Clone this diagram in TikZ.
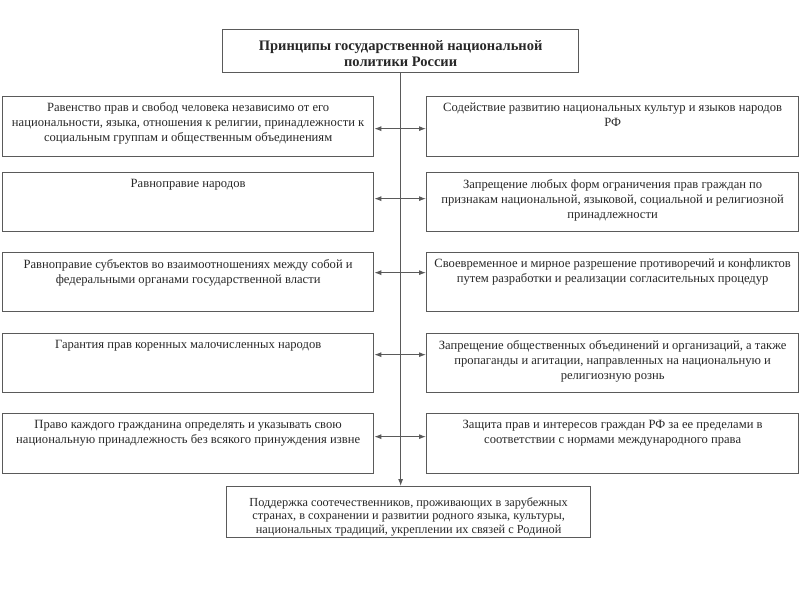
\documentclass[tikz,border=0pt]{standalone}
\usepackage{fontspec}
\setmainfont{Liberation Serif}
\usetikzlibrary{arrows.meta}
\definecolor{edge}{RGB}{90,90,90}
\definecolor{ink}{RGB}{40,40,40}
\tikzset{
  x=1pt,y=1pt,
  box/.style={draw=edge, line width=1.3pt, rectangle, inner sep=0pt, anchor=north west},
  txt/.style={anchor=north, inner sep=0pt, align=center, text=ink, font=\fontsize{12.6}{15}\selectfont},
  ttl/.style={align=center, text=ink, font=\bfseries\fontsize{14.5}{16.5}\selectfont},
  btxt/.style={align=center, text=ink, font=\fontsize{12.3}{13.5}\selectfont},
  link/.style={draw=edge, line width=1pt},
  dbl/.style={link, {Latex[length=7pt,width=5pt]}-{Latex[length=7pt,width=5pt]}},
  down/.style={link, -{Latex[length=7pt,width=5pt]}}
}
\begin{document}
\begin{tikzpicture}
\useasboundingbox (0,0) rectangle (800,-600);
\fill[white] (0,0) rectangle (800,-600);
% top
\node[box, minimum width=356, minimum height=43] (T) at (222,-29) {};
\node[ttl] (Tt) at ([yshift=-2.5pt]T.center) {Принципы государственной национальной\\политики России};
% rows
\node[box, minimum width=371, minimum height=60] (L1) at (2,-96) {};
\node[box, minimum width=372, minimum height=60] (R1) at (426,-96) {};
\node[box, minimum width=371, minimum height=59] (L2) at (2,-172) {};
\node[box, minimum width=372, minimum height=59] (R2) at (426,-172) {};
\node[box, minimum width=371, minimum height=59] (L3) at (2,-252) {};
\node[box, minimum width=372, minimum height=59] (R3) at (426,-252) {};
\node[box, minimum width=371, minimum height=59] (L4) at (2,-333) {};
\node[box, minimum width=372, minimum height=59] (R4) at (426,-333) {};
\node[box, minimum width=371, minimum height=60] (L5) at (2,-413) {};
\node[box, minimum width=372, minimum height=60] (R5) at (426,-413) {};
% bottom
\node[box, minimum width=364, minimum height=51] (B) at (226,-486) {};
\node[btxt] (Bt) at ([yshift=-4.5pt]B.center) {Поддержка соотечественников, проживающих в зарубежных\\странах, в сохранении и развитии родного языка, культуры,\\национальных традиций, укреплении их связей с Родиной};
% texts
\node[txt] (L1t) at ([yshift=-6.5pt]L1.north) {Равенство прав и свобод человека независимо от его\\национальности, языка, отношения к религии, принадлежности к\\социальным группам и общественным объединениям};
\node[txt] (R1t) at ([yshift=-6.5pt]R1.north) {Содействие развитию национальных культур и языков народов\\РФ};
\node[txt] (L2t) at ([yshift=-7pt]L2.north) {Равноправие народов};
\node[txt] (R2t) at ([yshift=-7pt]R2.north) {Запрещение любых форм ограничения прав граждан по\\признакам национальной, языковой, социальной и религиозной\\принадлежности};
\node[txt] (L3t) at ([yshift=-7pt]L3.north) {Равноправие субъектов во взаимоотношениях между собой и\\федеральными органами государственной власти};
\node[txt] (R3t) at ([yshift=-7pt]R3.north) {Своевременное и мирное разрешение противоречий и конфликтов\\путем разработки и реализации согласительных процедур};
\node[txt] (L4t) at ([yshift=-7pt]L4.north) {Гарантия прав коренных малочисленных народов};
\node[txt] (R4t) at ([yshift=-7pt]R4.north) {Запрещение общественных объединений и организаций, а также\\пропаганды и агитации, направленных на национальную и\\религиозную рознь};
\node[txt] (L5t) at ([yshift=-7pt]L5.north) {Право каждого гражданина определять и указывать свою\\национальную принадлежность без всякого принуждения извне};
\node[txt] (R5t) at ([yshift=-7pt]R5.north) {Защита прав и интересов граждан РФ за ее пределами в\\соответствии с нормами международного права};
% connectors
\draw[down] (T.south) -- (T.south |- B.north);
\draw[dbl] ([yshift=-2pt]L1.east) -- ([yshift=-2pt]R1.west);
\draw[dbl] ([yshift=3.5pt]L2.east) -- ([yshift=3.5pt]R2.west);
\draw[dbl] ([yshift=9.5pt]L3.east) -- ([yshift=9.5pt]R3.west);
\draw[dbl] ([yshift=8.5pt]L4.east) -- ([yshift=8.5pt]R4.west);
\draw[dbl] ([yshift=7pt]L5.east) -- ([yshift=7pt]R5.west);
\end{tikzpicture}
\end{document}
